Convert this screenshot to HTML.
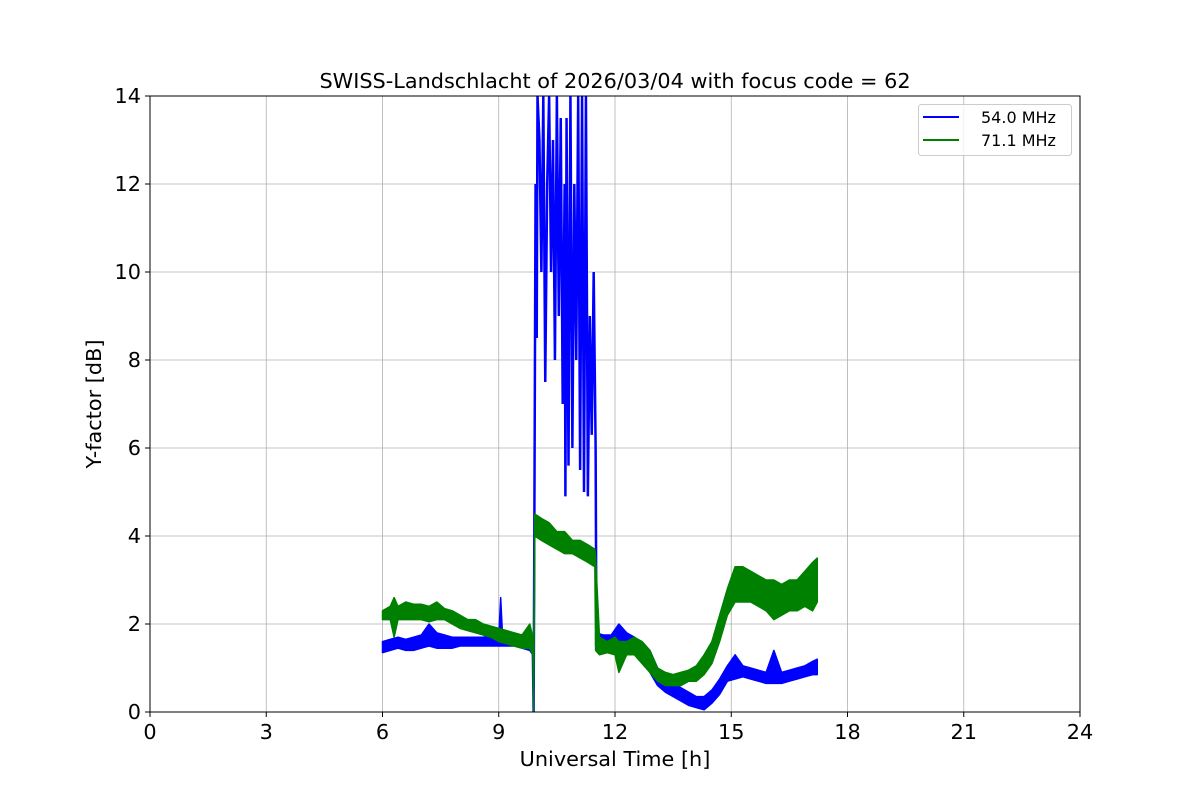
<!DOCTYPE html>
<html><head><meta charset="utf-8"><style>
body{margin:0;background:#fff;}
svg text{font-family:"DejaVu Sans","Liberation Sans",sans-serif;fill:#000;}
</style></head><body>
<svg id="chart" width="1200" height="800" xmlns="http://www.w3.org/2000/svg">
<defs><clipPath id="clip"><rect x="150" y="96" width="930" height="616"/></clipPath></defs>
<text x="615" y="88" font-size="20.8" text-anchor="middle">SWISS-Landschlacht of 2026/03/04 with focus code = 62</text>
<g id="grid"></g>
<g id="series" clip-path="url(#clip)"></g>
<rect x="150" y="96" width="930" height="616" fill="none" stroke="#000" stroke-width="1"/>
<g id="ticks"></g>
<text x="615" y="766" font-size="20.8" text-anchor="middle">Universal Time [h]</text>
<text x="101" y="404" font-size="20.8" text-anchor="middle" transform="rotate(-90 101 404)">Y-factor [dB]</text>
<g>
<rect x="918.5" y="104.5" width="153" height="51" rx="3" fill="#fff" fill-opacity="0.8" stroke="#ccc"/>
<line x1="923" y1="117" x2="959" y2="117" stroke="#0000ff" stroke-width="2"/>
<text x="981" y="123" font-size="16">54.0 MHz</text>
<line x1="923" y1="140" x2="959" y2="140" stroke="#008000" stroke-width="2"/>
<text x="981" y="146" font-size="16">71.1 MHz</text>
</g>
</svg>
<script>
const xTicks=[0,3,6,9,12,15,18,21,24];
const yTicks=[0,2,4,6,8,10,12,14];
const blueT1=[6.0,6.2,6.4,6.6,6.8,7.0,7.2,7.4,7.6,7.8,8.0,8.2,8.4,8.6,8.8,9.0,9.05,9.1,9.4,9.6,9.8,9.88];
const blueLo1=[1.35,1.4,1.45,1.4,1.4,1.45,1.5,1.45,1.45,1.45,1.5,1.5,1.5,1.5,1.5,1.5,1.5,1.5,1.5,1.45,1.4,1.3];
const blueHi1=[1.6,1.65,1.7,1.65,1.7,1.75,2.0,1.8,1.75,1.7,1.7,1.7,1.7,1.7,1.75,1.7,2.6,1.7,1.7,1.7,1.65,1.6];
const blueWildT=[9.88,9.9,9.92,9.95,9.98,10.0,10.05,10.1,10.15,10.2,10.25,10.3,10.35,10.4,10.45,10.5,10.55,10.6,10.65,10.7,10.72,10.75,10.8,10.85,10.9,10.95,11.0,11.05,11.1,11.15,11.2,11.25,11.3,11.35,11.4,11.45,11.5,11.52];
const blueWildV=[1.4,0,4.5,12,8.5,14,13,10,14,7.5,12,14,10,13,8,14,9,13.5,7,12,4.9,13.5,5.6,14,6,12,8,14,5.5,14,5,14,4.9,9,6.3,10,6,1.6];
const blueT2=[11.5,11.7,11.9,12.1,12.3,12.5,12.7,12.9,13.1,13.3,13.5,13.7,13.9,14.1,14.3,14.5,14.7,14.9,15.1,15.3,15.5,15.7,15.9,16.1,16.3,16.5,16.7,16.9,17.1,17.22];
const blueLo2=[1.5,1.5,1.45,1.4,1.4,1.4,1.2,0.9,0.6,0.45,0.35,0.25,0.15,0.1,0.05,0.2,0.4,0.7,0.75,0.8,0.75,0.7,0.65,0.65,0.65,0.7,0.75,0.8,0.85,0.85];
const blueHi2=[1.8,1.75,1.75,2.0,1.8,1.7,1.55,1.4,1.0,0.8,0.65,0.55,0.45,0.35,0.35,0.5,0.75,1.05,1.3,1.05,1.0,0.95,0.9,1.4,0.9,0.95,1.0,1.05,1.15,1.2];
const greenT=[6.0,6.2,6.3,6.4,6.6,6.8,7.0,7.2,7.4,7.6,7.8,8.0,8.2,8.4,8.6,8.8,9.0,9.2,9.4,9.6,9.8,9.88,9.9,9.93,10.1,10.3,10.5,10.7,10.9,11.1,11.3,11.48,11.5,11.6,11.8,12.0,12.1,12.3,12.5,12.7,12.9,13.1,13.3,13.5,13.7,13.9,14.1,14.3,14.5,14.7,14.9,15.1,15.3,15.5,15.7,15.9,16.1,16.3,16.5,16.7,16.9,17.1,17.22];
const greenLo=[2.1,2.1,1.7,2.1,2.1,2.1,2.1,2.05,2.1,2.1,2.0,1.9,1.85,1.8,1.75,1.7,1.6,1.55,1.5,1.45,1.45,1.3,0,4.0,3.9,3.8,3.7,3.6,3.6,3.5,3.4,3.3,1.4,1.3,1.35,1.3,0.9,1.3,1.3,1.1,0.9,0.7,0.6,0.6,0.6,0.7,0.7,0.85,1.1,1.6,2.2,2.5,2.5,2.5,2.4,2.3,2.1,2.2,2.3,2.3,2.4,2.3,2.5];
const greenHi=[2.3,2.4,2.6,2.4,2.5,2.45,2.45,2.4,2.5,2.35,2.3,2.2,2.1,2.1,2.0,1.95,1.9,1.85,1.8,1.75,2.0,1.7,1.5,4.5,4.4,4.3,4.1,4.1,3.9,3.9,3.8,3.7,3.5,1.7,1.6,1.7,1.6,1.6,1.7,1.6,1.4,1.0,0.9,0.85,0.9,0.95,1.05,1.3,1.6,2.2,2.8,3.3,3.3,3.2,3.1,3.0,3.0,2.9,3.0,3.0,3.2,3.4,3.5];

const X0=150,X1=1080,Y0=712,Y1=96;
const xs=v=>X0+(v-0)/24*(X1-X0);
const ys=v=>Y0-(v-0)/14*(Y0-Y1);
const NS='http://www.w3.org/2000/svg';
function mk(tag,attrs,parent){const e=document.createElementNS(NS,tag);for(const k in attrs)e.setAttribute(k,attrs[k]);parent.appendChild(e);return e;}
const grid=document.getElementById('grid'),ticks=document.getElementById('ticks'),ser=document.getElementById('series');
xTicks.forEach(t=>{
 const g=mk('line',{x1:xs(t),x2:xs(t),y1:Y1,y2:Y0,stroke:'#b0b0b0','stroke-width':0.8},grid);
 
 
 mk('line',{x1:xs(t),x2:xs(t),y1:Y0,y2:Y0+5,stroke:'#000'},ticks);
 const tx=mk('text',{x:xs(t),y:Y0+27,'font-size':20.8,'text-anchor':'middle'},ticks);tx.textContent=t;
 
 
});
yTicks.forEach(t=>{
 const g=mk('line',{x1:X0,x2:X1,y1:ys(t),y2:ys(t),stroke:'#b0b0b0','stroke-width':0.8},grid);
 
 
 mk('line',{x1:X0-5,x2:X0,y1:ys(t),y2:ys(t),stroke:'#000'},ticks);
 const tx=mk('text',{x:X0-9,y:ys(t)+7,'font-size':20.8,'text-anchor':'end'},ticks);tx.textContent=t;
 
 
});
function band(T,lo,hi,color,name){
 let d='M'+T.map((t,i)=>xs(t)+','+ys(hi[i])).join(' L');
 for(let i=T.length-1;i>=0;i--)d+=' L'+xs(T[i])+','+ys(lo[i]);
 d+='Z';
 const p=mk('path',{d:d,fill:color,stroke:color,'stroke-width':1.5,'stroke-linejoin':'round'},ser);
 
 
}
function line(T,V,color,name){
 const p=mk('polyline',{points:T.map((t,i)=>xs(t)+','+ys(V[i])).join(' '),fill:'none',stroke:color,'stroke-width':2.5},ser);
 
 
}
band(blueT1,blueLo1,blueHi1,'#0000ff','series-54mhz-morning');
line(blueWildT,blueWildV,'#0000ff','series-54mhz-burst');
band(blueT2,blueLo2,blueHi2,'#0000ff','series-54mhz-afternoon');
band(greenT,greenLo,greenHi,'#008000','series-71mhz');
</script>
</body></html>
